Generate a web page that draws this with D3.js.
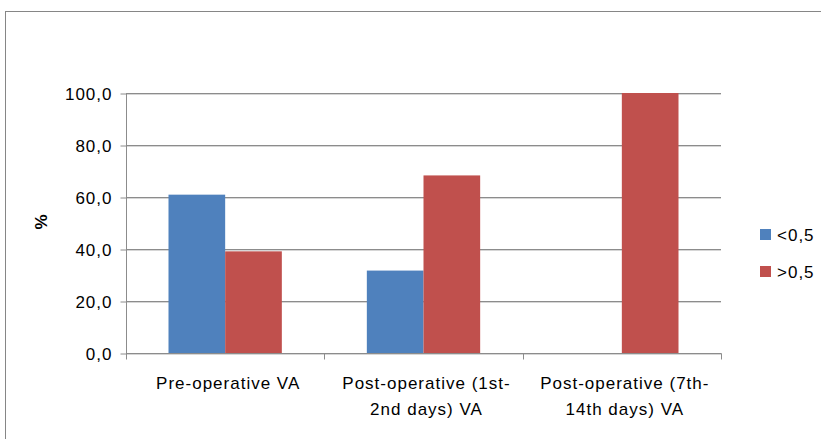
<!DOCTYPE html>
<html><head><meta charset="utf-8">
<script src="https://cdn.jsdelivr.net/npm/d3@7"></script>
<style>
body{margin:0;background:#fff}
svg{display:block}
text{font-family:"Liberation Sans",Arial,sans-serif;fill:#000}
</style>
</head><body>
<svg id="c" width="821" height="439"></svg>
<script>
const categories = ["Pre-operative VA", "Post-operative (1st-2nd days) VA", "Post-operative (7th-14th days) VA"];
const categoryLines = [["Pre-operative VA"], ["Post-operative (1st-", "2nd days) VA"], ["Post-operative (7th-", "14th days) VA"]];
const seriesNames = ["<0,5", ">0,5"];
const seriesLess = [60.9, 31.7, 0];
const seriesMore = [39.1, 68.3, 100];
const yTicks = [0, 20, 40, 60, 80, 100];
const colors = ["#4F81BD", "#C0504D"];

const svg = d3.select("#c");
const pLeft = 126, pRight = 721, pTop = 93, pBottom = 353;
const fs = 17, ls = 1.0;

// outer chart border
svg.append("rect").attr("x", 5.5).attr("y", 11.5).attr("width", 900).attr("height", 600)
  .attr("fill", "none").attr("stroke", "#868686");

const y = d3.scaleLinear().domain([0, 100]).range([pBottom, pTop]);
const x0 = d3.scaleBand().domain(categories).range([pLeft, pRight]).padding(0);
const bw = x0.bandwidth() / 3.5;
const x1 = d3.scaleBand().domain(seriesNames).range([bw * 0.75, x0.bandwidth() - bw * 0.75]).padding(0);

const fmt = v => d3.format(".1f")(v).replace(".", ",");

// gridlines
const g = svg.append("g");
yTicks.forEach(t => {
  const yy = Math.round(y(t));
  g.append("line").attr("x1", pLeft).attr("x2", pRight).attr("y1", yy + 1.5).attr("y2", yy + 1.5).attr("stroke", "#d6d6d6");
  g.append("line").attr("x1", pLeft).attr("x2", pRight).attr("y1", yy + 0.5).attr("y2", yy + 0.5).attr("stroke", "#8c8c8c");
});

// bars
const data = categories.map((c, i) => ({cat: c, vals: [seriesLess[i], seriesMore[i]]}));
const grp = svg.append("g").selectAll("g").data(data).join("g")
  .attr("transform", d => `translate(${x0(d.cat)},0)`);
grp.selectAll("rect").data(d => d.vals.map((v, k) => ({k, v}))).join("rect")
  .attr("x", d => x1(seriesNames[d.k]))
  .attr("width", x1.bandwidth())
  .attr("y", d => y(d.v))
  .attr("height", d => y(0) - y(d.v))
  .attr("fill", d => colors[d.k]);

// y axis
const yAxis = d3.axisLeft(y).tickValues(yTicks).tickFormat(fmt).tickSize(6).tickPadding(8);
const ya = svg.append("g").attr("transform", `translate(${pLeft + 0.5},0.5)`).call(yAxis);
ya.select(".domain").attr("stroke", "#8c8c8c").attr("d", `M0,${pTop}V${pBottom}`);
ya.selectAll(".tick line").attr("stroke", "#8c8c8c");
ya.selectAll(".tick text").attr("font-size", fs).attr("letter-spacing", ls).attr("dy", "0.36em")
  .attr("font-family", '"Liberation Sans", Arial, sans-serif').attr("fill", "#000");

// x axis
const xa = svg.append("g").attr("transform", `translate(0,${pBottom + 0.5})`);
xa.append("line").attr("x1", pLeft).attr("x2", pRight + 0.5).attr("stroke", "#8c8c8c");
const bounds = categories.map(c => x0(c)).concat([pRight]);
xa.selectAll("line.t").data(bounds).join("line").attr("class", "t")
  .attr("x1", d => Math.round(d) + 0.5).attr("x2", d => Math.round(d) + 0.5).attr("y1", 0).attr("y2", 6)
  .attr("stroke", "#8c8c8c");

categories.forEach((c, i) => {
  const t = svg.append("text").attr("text-anchor", "middle").attr("font-size", fs).attr("letter-spacing", ls);
  categoryLines[i].forEach((ln, j) => {
    t.append("tspan").attr("x", x0(c) + x0.bandwidth() / 2 + 3).attr("y", 389 + j * 26).text(ln);
  });
});

// y title
svg.append("text").attr("transform", "translate(47,222) rotate(-90)").attr("text-anchor", "middle")
  .attr("font-size", fs).attr("font-weight", "bold").text("%");

// legend
seriesNames.forEach((s, i) => {
  svg.append("rect").attr("x", 760).attr("y", 229 + i * 37).attr("width", 11).attr("height", 11).attr("fill", colors[i]);
  svg.append("text").attr("x", 777).attr("y", 240.5 + i * 37).attr("font-size", fs).attr("letter-spacing", ls).text(s);
});
</script>
</body></html>
